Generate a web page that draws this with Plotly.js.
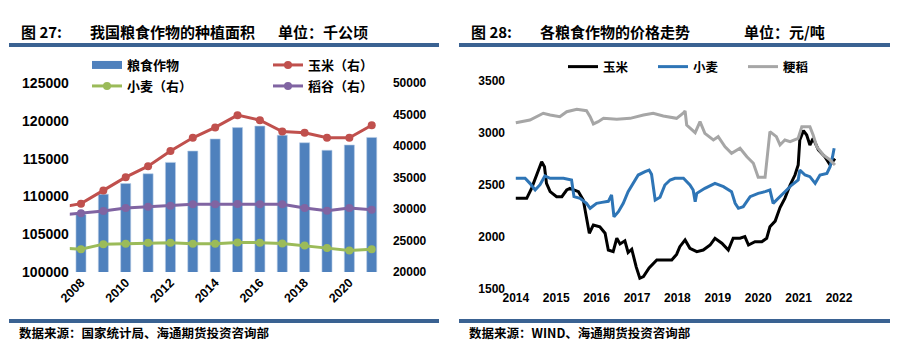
<!DOCTYPE html>
<html><head><meta charset="utf-8">
<script src="https://cdn.plot.ly/plotly-3.0.1.min.js"></script>
<style>html,body{margin:0;padding:0;background:#fff}#chart{width:900px;height:359px}</style>
</head><body><div id="chart"></div>
<script>
// ---------- Figure 27 data (thousand hectares) ----------
const barYears = [2008,2009,2010,2011,2012,2013,2014,2015,2016,2017,2018,2019,2020,2021];
const grainArea = [107600,110300,111700,113000,114500,116000,117600,119100,119300,118100,117100,116100,116800,117800];
const lineYears = [2007,2008,2009,2010,2011,2012,2013,2014,2015,2016,2017,2018,2019,2020,2021];
const cornArea  = [30200,30850,32950,35050,36790,39200,41300,42950,44900,44100,42300,42100,41300,41300,43300];
const wheatArea = [23790,23630,24420,24470,24630,24630,24470,24470,24690,24660,24510,24210,23790,23420,23630];
const riceArea  = [29030,29320,29680,30150,30370,30530,30740,30740,30780,30750,30750,30150,29740,30150,29900];
const leftTickYears = [2008,2010,2012,2014,2016,2018,2020];

// ---------- Figure 28 data (yuan/ton), time in decimal years ----------
const cornT = [2014.00,2014.27,2014.39,2014.53,2014.64,2014.71,2014.76,2014.85,2015.01,2015.14,2015.26,2015.34,2015.55,2015.67,2015.75,2015.82,2015.92,2016.08,2016.21,2016.29,2016.41,2016.50,2016.58,2016.70,2016.78,2016.87,2016.98,2017.07,2017.16,2017.30,2017.49,2017.65,2017.86,2017.98,2018.06,2018.19,2018.31,2018.48,2018.64,2018.81,2018.93,2019.10,2019.26,2019.38,2019.55,2019.67,2019.76,2019.92,2020.09,2020.21,2020.29,2020.42,2020.54,2020.66,2020.79,2020.91,2020.99,2021.03,2021.12,2021.20,2021.28,2021.36,2021.49,2021.65,2021.78,2021.90];
const cornP = [2369,2369,2465,2610,2721,2673,2513,2433,2385,2385,2449,2465,2433,2353,2192,2033,2113,2096,2033,1872,1856,1985,1930,1960,1848,1880,1710,1600,1616,1700,1776,1776,1776,1830,1904,1969,1889,1856,1872,1920,1985,1937,1872,1985,1985,2001,1920,1952,1952,1985,2096,2150,2280,2369,2497,2593,2690,2930,3020,2978,2882,2946,2834,2769,2690,2750];
const wheatT = [2014.00,2014.23,2014.35,2014.48,2014.60,2014.72,2014.85,2015.18,2015.38,2015.44,2015.59,2015.75,2015.84,2016.00,2016.13,2016.29,2016.37,2016.43,2016.54,2016.66,2016.78,2016.91,2017.03,2017.20,2017.30,2017.36,2017.45,2017.57,2017.69,2017.82,2017.94,2018.15,2018.31,2018.39,2018.44,2018.48,2018.68,2018.93,2019.14,2019.34,2019.43,2019.51,2019.63,2019.80,2020.00,2020.17,2020.29,2020.37,2020.50,2020.66,2020.83,2020.99,2021.03,2021.16,2021.28,2021.41,2021.53,2021.70,2021.78,2021.84,2021.88];
const wheatP = [2562,2562,2513,2449,2500,2584,2562,2562,2545,2385,2369,2321,2273,2321,2330,2340,2401,2192,2241,2321,2433,2513,2593,2625,2641,2600,2353,2380,2497,2545,2562,2562,2497,2449,2337,2417,2465,2513,2481,2433,2321,2273,2289,2385,2417,2433,2449,2321,2369,2433,2497,2545,2641,2593,2577,2513,2593,2609,2673,2769,2850];
const riceT = [2014.00,2014.35,2014.68,2014.85,2015.09,2015.26,2015.51,2015.75,2015.84,2015.92,2016.04,2016.17,2016.50,2016.83,2017.16,2017.40,2017.65,2017.98,2018.15,2018.19,2018.23,2018.31,2018.44,2018.56,2018.68,2018.89,2019.01,2019.18,2019.34,2019.55,2019.72,2019.88,2020.00,2020.17,2020.21,2020.29,2020.45,2020.54,2020.66,2020.79,2020.99,2021.08,2021.28,2021.36,2021.45,2021.61,2021.78,2021.90];
const riceP = [3096,3122,3187,3170,3154,3202,3225,3212,3154,3084,3106,3138,3129,3138,3170,3187,3160,3138,3190,3209,3074,3042,3000,3106,2994,2930,2962,2865,2802,2850,2769,2706,2571,2571,2706,3010,2962,2882,2930,2914,2946,3058,3058,2978,2865,2786,2738,2690];
const rightTickYears = [2014,2015,2016,2017,2018,2019,2020,2021,2022];

// ---------- layout helpers ----------
const W = 900, H = 359;
const px = x => x / W, py = y => 1 - y / H;
const NUM = {family: 'Liberation Sans, Arial, sans-serif', weight: 700, color: '#000'};
const CJK = {family: 'Noto Sans CJK SC, sans-serif', weight: 700, color: '#000'};
const RULE = '#3a6292';

// left plot pixel frame
const L0 = 69.8, L1 = 382.9, LT = 83, LB = 272;
// right plot pixel frame
const R0 = 506, R1 = 860, RT = 80.7, RB = 288.7;
const yrPx = 40.4, x2014 = 515.8;

const traces = [
  {type: 'bar', x: barYears, y: grainArea, name: '粮食作物', width: 0.45,
   marker: {color: '#4f81bd', line: {color: '#b9cde5', width: 0.6}},
   xaxis: 'x', yaxis: 'y', showlegend: false, hoverinfo: 'skip'},
  {type: 'scatter', mode: 'lines', x: [null], y: [null], name: '粮食作物',
   line: {color: '#4f81bd', width: 8}, xaxis: 'x', yaxis: 'y', legend: 'legend'},
  {type: 'scatter', mode: 'lines+markers', x: lineYears, y: cornArea, name: '玉米（右）',
   line: {color: '#c0504d', width: 3}, marker: {size: 8, color: '#c0504d'},
   xaxis: 'x', yaxis: 'y2', legend: 'legend'},
  {type: 'scatter', mode: 'lines+markers', x: lineYears, y: wheatArea, name: '小麦（右）',
   line: {color: '#9bbb59', width: 3}, marker: {size: 8, color: '#9bbb59'},
   xaxis: 'x', yaxis: 'y2', legend: 'legend2'},
  {type: 'scatter', mode: 'lines+markers', x: lineYears, y: riceArea, name: '稻谷（右）',
   line: {color: '#8064a2', width: 3}, marker: {size: 8, color: '#8064a2'},
   xaxis: 'x', yaxis: 'y2', legend: 'legend2'},
  {type: 'scatter', mode: 'lines', x: cornT, y: cornP, name: '玉米',
   line: {color: '#000000', width: 3}, xaxis: 'x2', yaxis: 'y3', legend: 'legend3'},
  {type: 'scatter', mode: 'lines', x: wheatT, y: wheatP, name: '小麦',
   line: {color: '#2e75b6', width: 3}, xaxis: 'x2', yaxis: 'y3', legend: 'legend3'},
  {type: 'scatter', mode: 'lines', x: riceT, y: riceP, name: '粳稻',
   line: {color: '#a6a6a6', width: 3}, xaxis: 'x2', yaxis: 'y3', legend: 'legend3'}
];

const legBase = {orientation: 'h', xanchor: 'left', yanchor: 'middle', bgcolor: 'rgba(0,0,0,0)',
  borderwidth: 0, traceorder: 'normal', entrywidthmode: 'pixels'};

const layout = {
  width: W, height: H, margin: {l: 0, r: 0, t: 0, b: 0, autoexpand: false},
  paper_bgcolor: '#fff', plot_bgcolor: 'rgba(0,0,0,0)', hovermode: false,
  bargap: 0,
  xaxis: {domain: [px(L0), px(L1)], range: [2007.5, 2021.5], anchor: 'y',
    tickmode: 'array', tickvals: leftTickYears, ticktext: leftTickYears.map(String),
    tickangle: -45, tickfont: Object.assign({size: 12.5}, NUM),
    showgrid: false, zeroline: false, showline: false, ticks: ''},
  yaxis: {domain: [py(LB), py(LT)], range: [100000, 125000], dtick: 5000, tick0: 100000,
    tickformat: 'd', tickfont: Object.assign({size: 14}, NUM), anchor: 'x',
    showgrid: false, zeroline: false, showline: false, ticks: '', ticklabelstandoff: 0},
  yaxis2: {overlaying: 'y', side: 'right', anchor: 'x', range: [20000, 50000], dtick: 5000, tick0: 20000,
    tickformat: 'd', tickfont: Object.assign({size: 12}, NUM),
    showgrid: false, zeroline: false, showline: false, ticks: '', ticklabelstandoff: 9},
  xaxis2: {domain: [px(R0), px(R1)], anchor: 'y3',
    range: [2014 - (x2014 - R0) / yrPx, 2014 + (R1 - x2014) / yrPx],
    tickmode: 'array', tickvals: rightTickYears, ticktext: rightTickYears.map(String),
    tickfont: Object.assign({size: 12}, NUM), tickangle: 0,
    showgrid: false, zeroline: false, showline: false, ticks: ''},
  yaxis3: {domain: [py(RB), py(RT)], anchor: 'x2', range: [1500, 3500], dtick: 500, tick0: 1500,
    tickformat: 'd', tickfont: Object.assign({size: 12}, NUM),
    showgrid: false, zeroline: false, showline: false, ticks: ''},
  legend: Object.assign({}, legBase, {x: px(87), y: py(65), entrywidth: 136,
    font: Object.assign({size: 13}, CJK)}),
  legend2: Object.assign({}, legBase, {x: px(87), y: py(86), entrywidth: 136,
    font: Object.assign({size: 13}, CJK)}),
  legend3: Object.assign({}, legBase, {x: px(563), y: py(67), entrywidth: 45,
    font: Object.assign({size: 12.5}, CJK)}),
  shapes: [
    {type: 'rect', xref: 'paper', yref: 'paper', x0: px(9), x1: px(439), y0: py(47), y1: py(43), fillcolor: RULE, line: {width: 0}},
    {type: 'rect', xref: 'paper', yref: 'paper', x0: px(459), x1: px(890), y0: py(47), y1: py(43), fillcolor: RULE, line: {width: 0}},
    {type: 'rect', xref: 'paper', yref: 'paper', x0: px(9), x1: px(439), y0: py(323), y1: py(319), fillcolor: RULE, line: {width: 0}},
    {type: 'rect', xref: 'paper', yref: 'paper', x0: px(459), x1: px(890), y0: py(323), y1: py(319), fillcolor: RULE, line: {width: 0}}
  ],
  annotations: [
    ['图 27:', 20, 31, 15], ['我国粮食作物的种植面积', 89, 31, 15], ['单位：千公顷', 277, 31, 15],
    ['图 28:', 470, 31, 15], ['各粮食作物的价格走势', 539, 31, 15], ['单位：元/吨', 743, 31, 15],
    ['数据来源：国家统计局、海通期货投资咨询部', 18, 332, 12.5],
    ['数据来源：WIND、海通期货投资咨询部', 468, 332, 12.5]
  ].map(([t, x, y, s]) => ({text: t, xref: 'paper', yref: 'paper', x: px(x), y: py(y),
    xanchor: 'left', yanchor: 'middle', showarrow: false, borderpad: 0,
    font: Object.assign({size: s}, CJK)}))
};

Plotly.newPlot('chart', traces, layout, {displayModeBar: false, staticPlot: true});
</script></body></html>
